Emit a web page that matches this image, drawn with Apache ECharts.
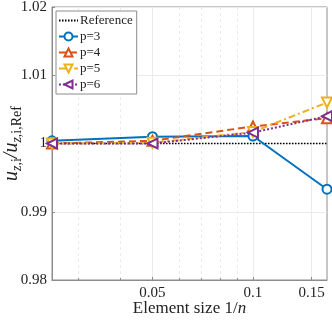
<!DOCTYPE html>
<html>
<head>
<meta charset="utf-8">
<script src="https://cdn.jsdelivr.net/npm/echarts@6/dist/echarts.min.js"></script>
<style>html,body{margin:0;padding:0;background:#fff}#c{width:332px;height:320px}</style>
</head>
<body>
<div id="c"></div>
<script>
// Element sizes 1/n
const sizes = [1/40, 1/20, 1/10, 1/6];
const p3 = [1.0004, 1.0010, 1.0011, 0.9933];
const p4 = [1.0000, 1.0004, 1.0025, 1.0037];
const p5 = [1.0000, 1.0001, 1.0017, 1.0060];
const p6 = [1.0000, 1.0000, 1.0016, 1.0040];
const refValue = 1;
const xMajorTicks = [0.05, 0.1, 0.15];
const xMinorTicks = [0.03, 0.04, 0.06, 0.07, 0.08, 0.09];
const yRange = [0.98, 1.02];
const yStep = 0.01;

const L = Math.log10;
const serif = '"Liberation Serif", "DejaVu Serif", serif';
const pts = arr => sizes.map((s, i) => [L(s), arr[i]]);
const xMin = L(sizes[0]), xMax = L(sizes[sizes.length - 1]);

const chart = echarts.init(document.getElementById('c'), null, {renderer: 'canvas'});

function mk(name, data, color, symbol, rotate, ltype) {
  return {
    name, type: 'line', data: pts(data), xAxisIndex: 0,
    symbol, symbolSize: symbol === 'emptyCircle' ? 9 : 10, symbolRotate: rotate,
    showAllSymbol: true,
    lineStyle: {color, width: 2, type: ltype},
    itemStyle: {color, borderColor: color, borderWidth: 2},
    emphasis: {disabled: true}, animation: false
  };
}

const option = {
  animation: false,
  grid: {left: 52, right: 5, top: 7, bottom: 40, outerBoundsMode: 'none', containLabel: false,
    show: true, borderColor: '#8c8c8c', borderWidth: 1, backgroundColor: 'transparent'},
  legend: {
    left: 56, top: 11, orient: 'vertical',
    backgroundColor: '#fff', borderColor: '#8c8c8c', borderWidth: 1,
    padding: [3, 4, 3, 2], itemGap: 3, itemWidth: 19, itemHeight: 10,
    textStyle: {fontFamily: serif, fontSize: 13, color: '#222', padding: [0, 0, 0, -3]},
    data: [{name: 'Reference', itemStyle: {color: 'rgba(0,0,0,0)', borderWidth: 0, opacity: 0}}, 'p=3', 'p=4', 'p=5', 'p=6']
  },
  xAxis: [{
    type: 'value', min: xMin, max: xMax,
    name: '{t|Element size 1/}{i|n}', nameLocation: 'middle', nameGap: 20, nameMoveOverlap: false,
    nameTextStyle: {rich: {t: {fontFamily: serif, fontSize: 17, color: '#222'}, i: {fontFamily: serif, fontSize: 17, fontStyle: 'italic', color: '#222'}}},
    axisLine: {show: true, lineStyle: {color: '#8c8c8c'}},
    axisTick: {show: true, inside: true, length: 3, customValues: xMajorTicks.map(L), lineStyle: {color: '#8c8c8c'}},
    axisLabel: {customValues: xMajorTicks.map(L), margin: 6, fontFamily: serif, fontSize: 15, color: '#222',
      formatter: v => String(Number(Math.pow(10, v).toPrecision(3)))},
    splitLine: {show: true, lineStyle: {color: '#ebebeb', width: 1}}
  }, {
    type: 'value', min: xMin, max: xMax, position: 'bottom',
    axisLine: {show: false},
    axisTick: {show: true, inside: true, length: 2, customValues: xMinorTicks.map(L), lineStyle: {color: '#8c8c8c'}},
    axisLabel: {show: false, customValues: xMinorTicks.map(L)},
    splitLine: {show: true, lineStyle: {color: '#ebebeb', width: 1, type: [3, 3]}}
  }],
  yAxis: {
    type: 'value', min: yRange[0], max: yRange[1], interval: yStep,
    name: '{u|u}{si|z}{s|,i}{u|/u}{si|z}{s|,i,Ref}',
    nameLocation: 'middle', nameGap: 28, nameRotate: 90, nameMoveOverlap: false,
    nameTextStyle: {rich: {
      u: {fontFamily: serif, fontSize: 20, fontStyle: 'italic', color: '#222', lineHeight: 24, verticalAlign: 'middle'},
      si: {fontFamily: serif, fontSize: 14, fontStyle: 'italic', color: '#222', verticalAlign: 'bottom', lineHeight: 24},
      s: {fontFamily: serif, fontSize: 14, color: '#222', verticalAlign: 'bottom', lineHeight: 24}
    }},
    axisLine: {show: true, lineStyle: {color: '#8c8c8c'}},
    axisTick: {show: true, inside: true, length: 3, lineStyle: {color: '#8c8c8c'}},
    axisLabel: {margin: 5, fontFamily: serif, fontSize: 15, color: '#222'},
    splitLine: {show: true, lineStyle: {color: '#ebebeb', width: 1}}
  },
  series: [
    {name: 'Reference', type: 'line', data: [[xMin, refValue], [xMax, refValue]], symbol: 'none',
     lineStyle: {color: '#000', width: 1.5, type: [1.5, 1.5]}, itemStyle: {color: '#000'}, z: 1},
    mk('p=3', p3, '#0072BD', 'emptyCircle', 0, 'solid'),
    mk('p=4', p4, '#D95319', 'emptyTriangle', 0, [7, 4]),
    mk('p=5', p5, '#EDB120', 'emptyTriangle', 180, [7, 3, 2, 3]),
    mk('p=6', p6, '#7E2F8E', 'emptyTriangle', 90, [2, 2])
  ]
};
chart.setOption(option);
</script>
</body>
</html>
